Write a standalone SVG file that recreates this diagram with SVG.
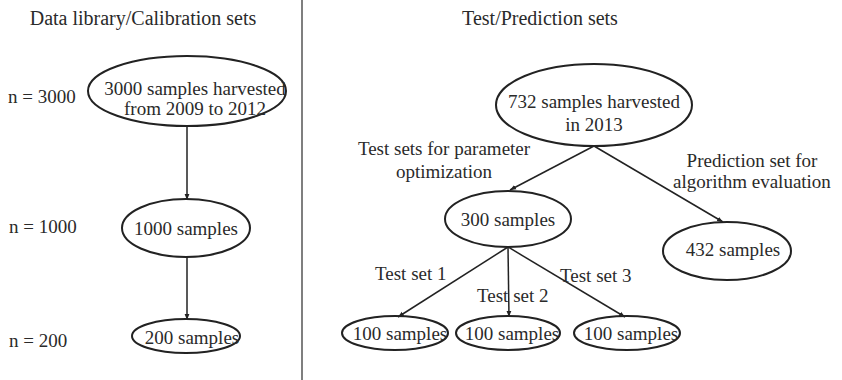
<svg xmlns="http://www.w3.org/2000/svg" width="842" height="380" viewBox="0 0 842 380">
<defs>
<marker id="arr" viewBox="0 0 10 10" refX="10" refY="5" markerWidth="6" markerHeight="6" orient="auto" markerUnits="userSpaceOnUse">
<path d="M0,1 L10,5 L0,9 z" fill="#222"/>
</marker>
</defs>
<style>
text{font-family:"Liberation Serif","Times New Roman",serif;fill:#2a2a2a;font-size:19px}
.title{font-size:20px}
.mid{text-anchor:middle}
ellipse{fill:none;stroke:#222;stroke-width:2}
.conn line{stroke:#222;stroke-width:1.5;marker-end:url(#arr)}
</style>
<rect width="842" height="380" fill="#fff"/>
<line x1="302" y1="0" x2="302" y2="380" stroke="#555" stroke-width="1.5"/>
<text class="title mid" x="143" y="25">Data library/Calibration sets</text>
<text class="title mid" x="540" y="25">Test/Prediction sets</text>
<text x="8" y="103">n = 3000</text>
<text x="9" y="233">n = 1000</text>
<text x="9" y="347">n = 200</text>
<g class="conn" id="connectors">
<line x1="187" y1="126" x2="187" y2="200"/>
<line x1="187" y1="257" x2="187" y2="320"/>
<line x1="594" y1="146" x2="510" y2="190"/>
<line x1="594" y1="146" x2="723" y2="222"/>
<line x1="508" y1="247" x2="398" y2="317"/>
<line x1="508" y1="247" x2="509" y2="317"/>
<line x1="508" y1="247" x2="625" y2="317"/>
</g>
<g id="n3000">
<ellipse cx="187" cy="91" rx="99" ry="35"/>
<text class="mid" x="195" y="95">3000 samples harvested</text>
<text class="mid" x="195" y="115">from 2009 to 2012</text>
</g>
<g id="n1000">
<ellipse cx="186" cy="228" rx="64" ry="29"/>
<text class="mid" x="186" y="235">1000 samples</text>
</g>
<g id="n200">
<ellipse cx="186" cy="336" rx="54" ry="17"/>
<text class="mid" x="192" y="344">200 samples</text>
</g>
<g id="n732">
<ellipse cx="594" cy="105" rx="98" ry="41"/>
<text class="mid" x="594" y="108">732 samples harvested</text>
<text class="mid" x="594" y="131">in 2013</text>
</g>
<text class="mid" x="444" y="155">Test sets for parameter</text>
<text class="mid" x="444" y="178">optimization</text>
<text class="mid" x="752" y="167">Prediction set for</text>
<text class="mid" x="752" y="188">algorithm evaluation</text>
<g id="n300">
<ellipse cx="508" cy="219" rx="63" ry="28"/>
<text class="mid" x="508" y="226">300 samples</text>
</g>
<g id="n432">
<ellipse cx="727" cy="251" rx="64" ry="29"/>
<text class="mid" x="733" y="256">432 samples</text>
</g>
<text x="375" y="280">Test set 1</text>
<text x="477" y="302">Test set 2</text>
<text x="560" y="282">Test set 3</text>
<g id="n100a">
<ellipse cx="395" cy="333" rx="53" ry="17"/>
<text class="mid" x="400" y="340">100 samples</text>
</g>
<g id="n100b">
<ellipse cx="508" cy="333" rx="52" ry="17"/>
<text class="mid" x="512" y="340">100 samples</text>
</g>
<g id="n100c">
<ellipse cx="627" cy="333" rx="53" ry="17"/>
<text class="mid" x="631" y="340">100 samples</text>
</g>
</svg>
